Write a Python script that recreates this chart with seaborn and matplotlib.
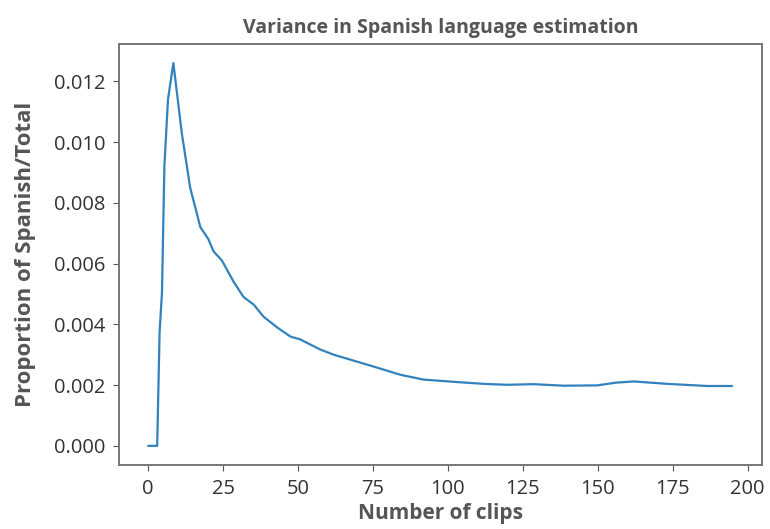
import matplotlib
matplotlib.use("Agg")
import matplotlib.pyplot as plt
import seaborn as sns
import pandas as pd

# values
clips = [0, 1, 2, 3, 3.8, 4.6, 5.4, 6.6, 8.4, 11.2, 14, 17.4, 20.1, 21.8, 24.6,
         28.5, 31.8, 35.2, 38.5, 43, 47.4, 50.8, 57.4, 61.9, 68, 75.2, 84.1,
         91.9, 103, 112, 119.7, 128.6, 138.6, 149.8, 156, 162, 173.2, 186.5, 194.8]
variance = [0.0, 0.0, 0.0, 0.0, 0.00373, 0.00504, 0.0092, 0.0114, 0.0126, 0.0103,
            0.0085, 0.0072, 0.0068, 0.0064, 0.0061, 0.0054, 0.0049, 0.00465,
            0.00425, 0.0039, 0.0036, 0.0035, 0.00317, 0.0030, 0.00282, 0.00261,
            0.00234, 0.00218, 0.0021, 0.00204, 0.00201, 0.00203, 0.00198, 0.00199,
            0.00208, 0.00212, 0.00204, 0.00197, 0.00197]

df = pd.DataFrame({"clips": clips, "variance": variance})

sns.set_style("ticks")
plt.rcParams["font.family"] = ["Open Sans", "DejaVu Sans"]

fig = plt.figure(figsize=(7.7, 5.29), dpi=100)
ax = fig.add_axes([0.1545, 0.121, 0.835, 0.796])

sns.lineplot(data=df, x="clips", y="variance", color="#3182bd", linewidth=1.6, ax=ax)

ax.set_xlim(-9.75, 204.75)
ax.set_ylim(-0.00063, 0.01323)
ax.set_xticks([0, 25, 50, 75, 100, 125, 150, 175, 200])
ax.set_yticks([0.0, 0.002, 0.004, 0.006, 0.008, 0.010, 0.012])
ax.set_yticklabels(["0.000", "0.002", "0.004", "0.006", "0.008", "0.010", "0.012"])

grey = "#555555"
ax.set_title("Variance in Spanish language estimation", fontsize=14,
             fontweight="bold", color=grey, pad=8)
ax.set_xlabel("Number of clips", fontsize=15, fontweight="bold", color=grey, labelpad=3)
ax.set_ylabel("Proportion of Spanish/Total", fontsize=16, fontweight="bold", color=grey,
              labelpad=13)
ax.tick_params(labelsize=14.5, colors="#555555", labelcolor="#333333", length=4, pad=6)
for s in ax.spines.values():
    s.set_color("#777777")
    s.set_linewidth(1.4)

fig.savefig("out.png", dpi=100)
